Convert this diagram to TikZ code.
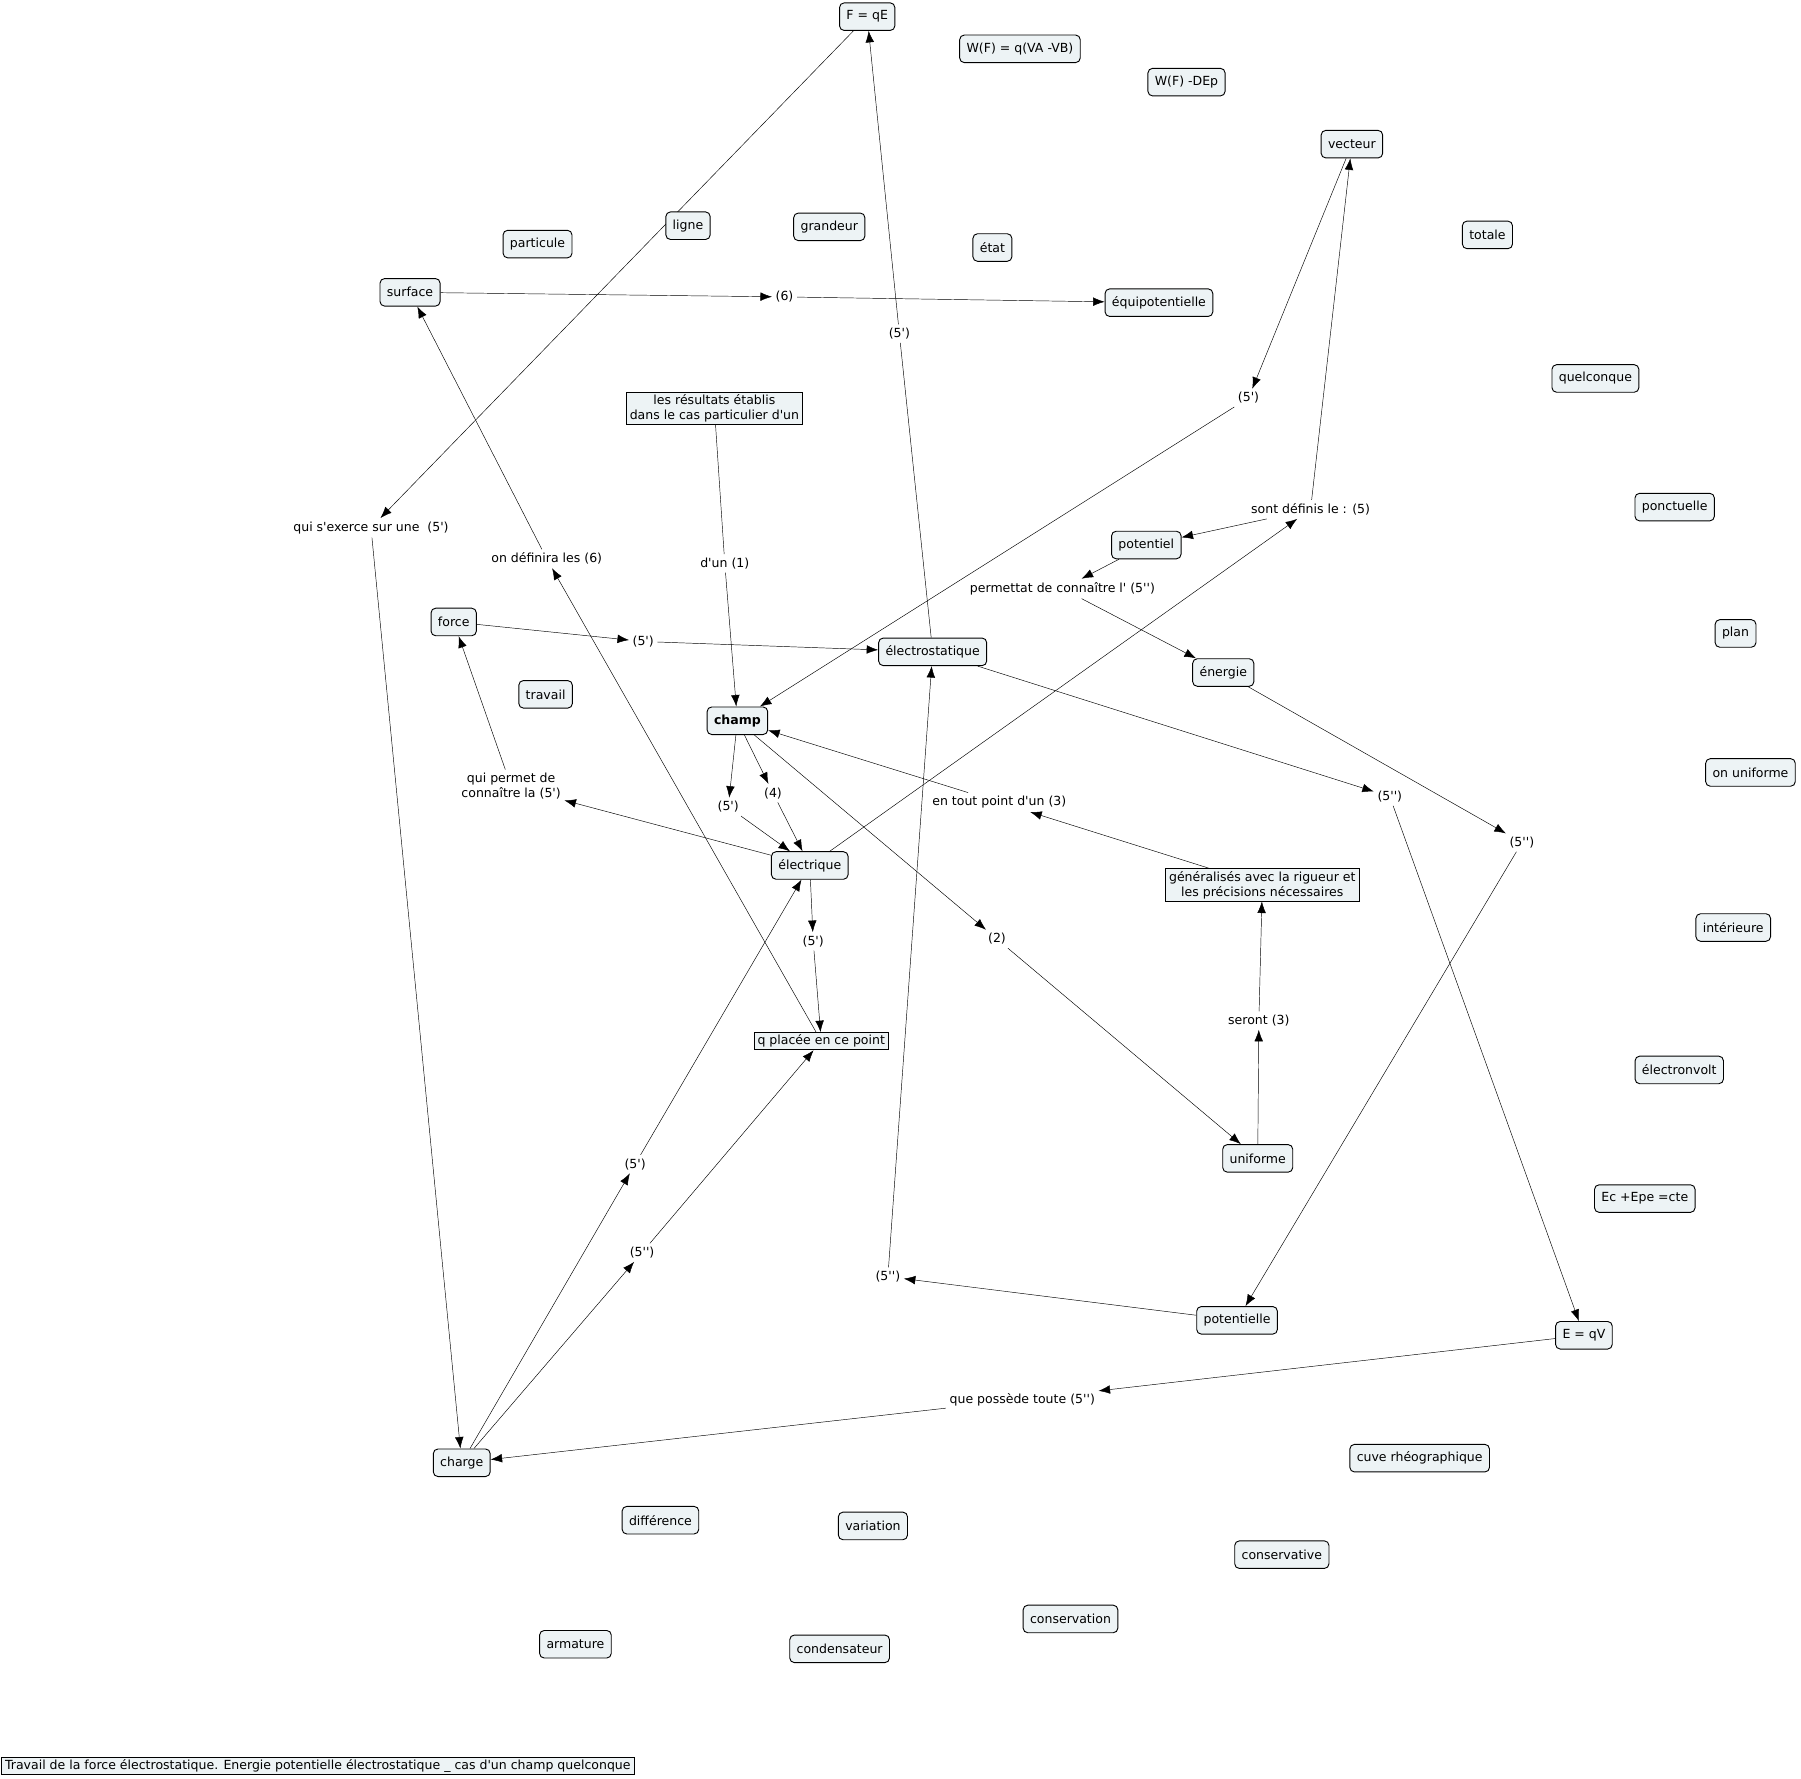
\documentclass[tikz,border=0pt]{standalone}
\usepackage{fontspec}
\setmainfont{DejaVu Sans}[Ligatures=TeXOff]
\usepackage{xcolor}
\usepackage{tikz}
\usetikzlibrary{arrows.meta, backgrounds}

\definecolor{cfill}{HTML}{EDF3F5}
\tikzset{
  concept/.style={draw, rounded corners=4pt, fill=cfill, inner xsep=6pt, minimum height=24pt, line width=0.8pt},
  cadre/.style={draw, fill=cfill, inner xsep=3pt, inner ysep=2pt, align=center, line width=0.8pt},
  lien/.style={inner sep=3pt, align=center},
}

\begin{document}
\begin{tikzpicture}[x=1pt, y=-1pt, >={Latex[length=10pt,width=7.5pt]}, font=\fontsize{10.9}{13}\selectfont]
    \useasboundingbox (0,0) rectangle (1568,1548);
    \begin{scope}[yshift=-1.5pt]
    % 1. Concepts
    \node[concept] (FqE) at (755,13) {F = qE};
    \node[concept] (WFa) at (888,41) {W(F) = q(VA -VB)};
    \node[concept] (WFb) at (1033,70) {W(F) -DEp};
    \node[concept] (vecteur) at (1177,124) {vecteur};
    \node[concept] (totale) at (1295,203) {totale};
    \node[concept] (particule) at (468,211) {particule};
    \node[concept] (ligne) at (599,195) {ligne};
    \node[concept] (grandeur) at (722,196) {grandeur};
    \node[concept] (etat) at (864,214) {état};
    \node[concept] (surface) at (357,253) {surface};
    \node[concept] (equipot) at (1009,262) {équipotentielle};
    \node[concept] (quelconque) at (1389,328) {quelconque};
    \node[concept] (ponctuelle) at (1458,440) {ponctuelle};
    \node[concept] (potentiel) at (998,473) {potentiel};
    \node[concept] (force) at (395,540) {force};
    \node[concept] (electrostat) at (812,566) {électrostatique};
    \node[concept] (energie) at (1065,584) {énergie};
    \node[concept] (plan) at (1511,550) {plan};
    \node[concept] (travail) at (475,603) {travail};
    \node[concept, font=\fontsize{10.9}{13}\selectfont\bfseries] (champ) at (642,626) {champ};
    \node[concept] (onuniforme) at (1524,671) {on uniforme};
    \node[concept] (electrique) at (705,752) {électrique};
    \node[concept] (interieure) at (1509,806) {intérieure};
    \node[concept] (electronvolt) at (1462,930) {électronvolt};
    \node[concept] (uniforme) at (1095,1007) {uniforme};
    \node[concept] (Ec) at (1432,1042) {Ec +Epe =cte};
    \node[concept] (potentielle) at (1077,1148) {potentielle};
    \node[concept] (EqV) at (1379,1161) {E = qV};
    \node[concept] (charge) at (402,1272) {charge};
    \node[concept] (cuve) at (1236,1268) {cuve rhéographique};
    \node[concept] (difference) at (575,1322) {différence};
    \node[concept] (variation) at (760,1327) {variation};
    \node[concept] (conservative) at (1116,1352) {conservative};
    \node[concept] (conservation) at (932,1408) {conservation};
    \node[concept] (armature) at (501,1430) {armature};
    \node[concept] (condensateur) at (731,1434) {condensateur};

    % 2. Cadres
    \node[cadre] (resultats) at (622,354) {les résultats établis\\dans le cas particulier d'un};
    \node[cadre] (generalises) at (1099,769) {généralisés avec la rigueur et\\les précisions nécessaires};
    \node[cadre] (qplacee) at (715,905) {q placée en ce point};
    \node[cadre, anchor=west] (titre) at (1,1536) {Travail de la force électrostatique. Energie potentielle électrostatique \_ cas d'un champ quelconque};

    % 3. Mots de liaison
    \node[lien] (Lsix) at (683,257) {(6)};
    \node[lien] (Lfa) at (783,289) {(5')};
    \node[lien] (Lfb) at (1087,345) {(5')};
    \node[lien] (qui) at (323,458) {qui s'exerce sur une\ \ (5')};
    \node[lien] (sont) at (1141,442) {sont définis le : (5)};
    \node[lien] (ondef) at (476,485) {on définira les (6)};
    \node[lien] (dun) at (631,489) {d'un (1)};
    \node[lien] (permettat) at (925,511) {permettat de connaître l' (5'')};
    \node[lien] (Lfc) at (560,557) {(5')};
    \node[lien] (quipermet) at (445,683) {qui permet de\\connaître la (5')};
    \node[lien] (Lquatre) at (673,689) {(4)};
    \node[lien] (Lfd) at (634,701) {(5')};
    \node[lien] (entout) at (870,697) {en tout point d'un (3)};
    \node[lien] (Lse) at (1210,692) {(5'')};
    \node[lien] (Lsf) at (1325,732) {(5'')};
    \node[lien] (Lfg) at (708,818) {(5')};
    \node[lien] (Ldeux) at (868,816) {(2)};
    \node[lien] (seront) at (1096,887) {seront (3)};
    \node[lien] (Lfh) at (553,1012) {(5')};
    \node[lien] (Lsi) at (559,1089) {(5'')};
    \node[lien] (Lsj) at (773,1110) {(5'')};
    \node[lien] (quepossede) at (890,1217) {que possède toute (5'')};
    \end{scope}

    % 4. Liens
    \begin{scope}[on background layer, line width=0.9pt]
    \draw[->] (FqE) -- (qui);
    \draw[->] (qui) -- (charge);
    \draw (electrostat) -- (Lfa);
    \draw[->] (Lfa) -- (FqE);
    \draw[->] (surface) -- (Lsix);
    \draw[->] (Lsix) -- (equipot);
    \draw[->] (vecteur) -- (Lfb);
    \draw[->] (Lfb) -- (champ);
    \draw[->] (electrique) -- (sont);
    \draw[->] (sont) -- (potentiel);
    \draw[->] (sont) -- (vecteur);
    \draw[->] (potentiel) -- (permettat);
    \draw[->] (permettat) -- (energie);
    \draw[->] (energie) -- (Lsf);
    \draw[->] (Lsf) -- (potentielle);
    \draw[->] (potentielle) -- (Lsj);
    \draw[->] (Lsj) -- (electrostat);
    \draw[->] (electrostat) -- (Lse);
    \draw[->] (Lse) -- (EqV);
    \draw[->] (EqV) -- (quepossede);
    \draw[->] (quepossede) -- (charge);
    \draw[->] (charge) -- (Lfh);
    \draw[->] (Lfh) -- (electrique);
    \draw[->] (charge) -- (Lsi);
    \draw[->] (Lsi) -- (qplacee);
    \draw[->] (electrique) -- (Lfg);
    \draw[->] (Lfg) -- (qplacee);
    \draw[->] (qplacee) -- (ondef);
    \draw[->] (ondef) -- (surface);
    \draw (resultats) -- (dun);
    \draw[->] (dun) -- (champ);
    \draw[->] (champ) -- (Lfd);
    \draw[->] (Lfd) -- (electrique);
    \draw[->] (champ) -- (Lquatre);
    \draw[->] (Lquatre) -- (electrique);
    \draw[->] (champ) -- (Ldeux);
    \draw[->] (Ldeux) -- (uniforme);
    \draw[->] (uniforme) -- (seront);
    \draw[->] (seront) -- (generalises);
    \draw[->] (generalises) -- (entout);
    \draw[->] (entout) -- (champ);
    \draw[->] (electrique) -- (quipermet);
    \draw[->] (quipermet) -- (force);
    \draw[->] (force) -- (Lfc);
    \draw[->] (Lfc) -- (electrostat);
    \end{scope}
\end{tikzpicture}
\end{document}
